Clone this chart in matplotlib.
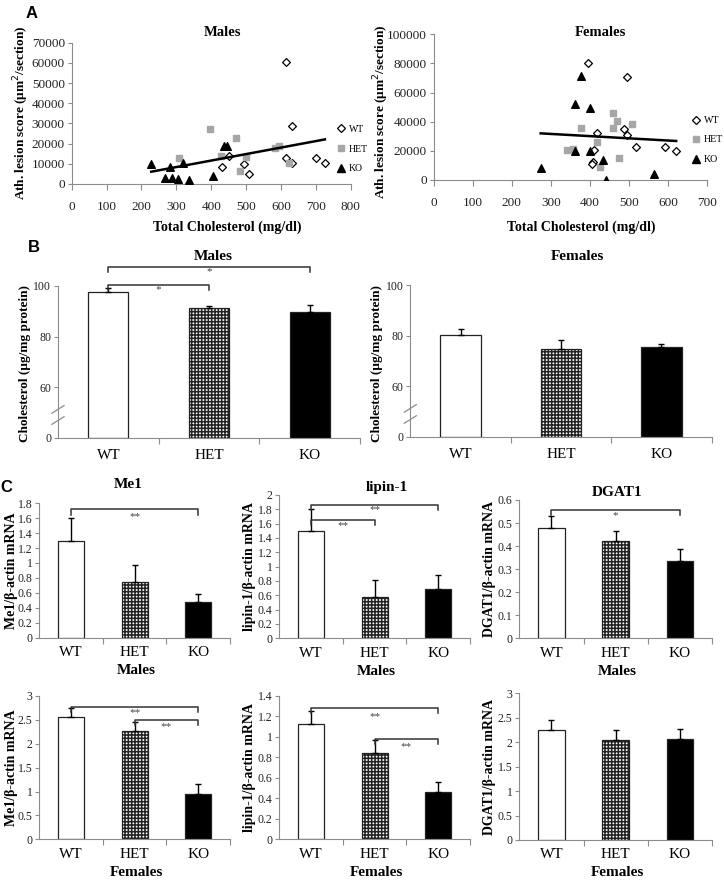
import numpy as np
import matplotlib
matplotlib.use('Agg')
import matplotlib.pyplot as plt
from matplotlib.lines import Line2D

plt.rcParams['font.family'] = ['Liberation Serif', 'DejaVu Serif']
plt.rcParams['hatch.linewidth'] = 1.1
plt.rcParams['hatch.color'] = 'black'

# ---- Данные: панель A (точечные графики) ----
m_wt_x = [615, 631, 614, 631, 700, 726, 430, 452, 494, 508]
m_wt_y = [60500, 28500, 13100, 10500, 13000, 10500, 8400, 14100, 10100, 5000]
m_het_x = [397, 472, 309, 428, 500, 483, 583, 593, 622]
m_het_y = [27100, 22800, 12900, 14000, 13500, 6400, 17800, 19000, 10200]
m_ko_x = [228, 267, 283, 288, 304, 319, 335, 404, 436, 445]
m_ko_y = [9700, 2800, 8600, 2800, 2300, 10200, 2000, 4100, 18800, 19000]

f_wt_x = [396, 496, 417, 488, 496, 518, 411, 409, 406, 592, 621]
f_wt_y = [80000, 71000, 32000, 35200, 30900, 22600, 20600, 12600, 11000, 22600, 20100]
f_het_x = [342, 356, 378, 417, 425, 460, 470, 460, 474, 508]
f_het_y = [20600, 21000, 35700, 26100, 9200, 46000, 40500, 35500, 15300, 38200]
f_ko_x = [274, 363, 377, 400, 363, 400, 433, 441, 563]
f_ko_y = [8000, 52000, 71600, 49700, 19900, 19900, 13700, 0, 4400]

groups = ['WT', 'HET', 'KO']

# ---- Панель B: холестерин ----
b_m_vals = [97.6, 91.2, 89.6]
b_m_err = [1.6, 0.9, 2.9]
b_f_vals = [80.3, 74.8, 75.5]
b_f_err = [2.2, 3.4, 1.2]

# ---- Панель C: экспрессия мРНК ----
me1_m = [1.30, 0.75, 0.48]
me1_m_err = [0.30, 0.22, 0.11]
lip_m = [1.50, 0.58, 0.69]
lip_m_err = [0.30, 0.24, 0.19]
dg_m = [0.477, 0.423, 0.334]
dg_m_err = [0.054, 0.043, 0.054]
me1_f = [2.55, 2.27, 0.95]
me1_f_err = [0.20, 0.18, 0.20]
lip_f = [1.12, 0.84, 0.46]
lip_f_err = [0.13, 0.13, 0.10]
dg_f = [2.25, 2.05, 2.06]
dg_f_err = [0.20, 0.20, 0.21]

W, H = 724, 882
fig = plt.figure(figsize=(W / 100, H / 100), dpi=100)
GRAY = '#8c8c8c'


def box(l, t, r, b):
    return fig.add_axes([l / W, 1 - b / H, (r - l) / W, (b - t) / H])


def txt(x, y, s, **kw):
    kw.setdefault('ha', 'center')
    kw.setdefault('va', 'center')
    fig.text(x / W, 1 - y / H, s, **kw)


def style(ax, size=8.5):
    for s in ['top', 'right']:
        ax.spines[s].set_visible(False)
    for s in ['left', 'bottom']:
        ax.spines[s].set_color(GRAY)
        ax.spines[s].set_linewidth(0.8)
    ax.tick_params(colors=GRAY, labelcolor='#222222', labelsize=size,
                   length=3, width=0.8, pad=2)


def scatter_panel(ax, wx, wy, hx, hy, kx, ky, xmax, ymax, ystep):
    ax.scatter(wx, wy, marker='D', s=16, facecolor='white',
               edgecolor='black', linewidth=0.9, zorder=3)
    ax.scatter(hx, hy, marker='s', s=22, color='#a6a6a6', zorder=3)
    ax.scatter(kx, ky, marker='^', s=30, color='black', zorder=3)
    allx = np.array(wx + hx + kx, dtype=float)
    ally = np.array(wy + hy + ky, dtype=float)
    k, b = np.polyfit(allx, ally, 1)
    xs = np.array([allx.min(), allx.max()])
    ax.plot(xs, k * xs + b, color='black', lw=1.8, zorder=4)
    ax.set_xlim(0, xmax)
    ax.set_ylim(0, ymax)
    ax.set_xticks(np.arange(0, xmax + 1, 100))
    ax.set_yticks(np.arange(0, ymax + 1, ystep))
    style(ax, 9.5)
    ax.tick_params(axis='x', length=4, pad=8)


handles = [
    Line2D([], [], ls='none', marker='D', ms=4.5, mfc='white', mec='black', mew=0.9, label='WT'),
    Line2D([], [], ls='none', marker='s', ms=5, color='#a6a6a6', label='HET'),
    Line2D([], [], ls='none', marker='^', ms=6, color='black', label='KO'),
]

# Панель A: самцы
ax = box(71.7, 42.7, 350.7, 184)
scatter_panel(ax, m_wt_x, m_wt_y, m_het_x, m_het_y, m_ko_x, m_ko_y, 800, 70000, 10000)
ax.legend(handles=handles, loc='upper left', bbox_to_anchor=(331 / W, 1 - 120 / H),
          bbox_transform=fig.transFigure, frameon=False, fontsize=7,
          handlelength=1, handletextpad=0.3, labelspacing=1.1, borderpad=0)
txt(222, 33, 'Males', fontsize=10.5, fontweight='bold')
txt(227, 227, 'Total Cholesterol (mg/dl)', fontsize=10, fontweight='bold')
txt(21, 113, 'Ath. lesion score (µm$^2$/section)', fontsize=9.5, fontweight='bold', rotation=90)

# Панель A: самки
ax = box(433.7, 34.3, 707, 180)
scatter_panel(ax, f_wt_x, f_wt_y, f_het_x, f_het_y, f_ko_x, f_ko_y, 700, 100000, 20000)
ax.legend(handles=handles, loc='upper left', bbox_to_anchor=(686 / W, 1 - 111 / H),
          bbox_transform=fig.transFigure, frameon=False, fontsize=7.2,
          handlelength=1, handletextpad=0.3, labelspacing=1.05, borderpad=0)
txt(600, 32, 'Females', fontsize=10.5, fontweight='bold')
txt(581, 227, 'Total Cholesterol (mg/dl)', fontsize=10, fontweight='bold')
txt(381, 112, 'Ath. lesion score (µm$^2$/section)', fontsize=9.5, fontweight='bold', rotation=90)


def bars(ax, vals, errs, base=0.0, width=0.4):
    pos = np.arange(3) + 0.5
    faces = ['white', 'white', 'black']
    hatches = [None, '+++++', None]
    for p, v, e, fc, h in zip(pos, vals, errs, faces, hatches):
        ax.bar(p, v - base, width=width, bottom=base, color=fc, hatch=h,
               edgecolor='#222222', linewidth=0.9, zorder=2)
        ax.errorbar(p, v, yerr=[[0], [e]], color='black', lw=1,
                    capsize=2.5, capthick=1, zorder=3)
    ax.set_xlim(0, 3)
    ax.set_xticks(pos)
    ax.set_xticklabels(groups)
    ax.set_xticks([1, 2, 3], minor=True)
    style(ax)
    ax.tick_params(axis='x', which='major', length=0, labelsize=11, labelcolor='black', pad=8)
    ax.tick_params(axis='x', which='minor', length=4, color=GRAY, width=0.8)


def bracket(ax, i, j, y, leg, label, ty):
    x1, x2 = i + 0.5, j + 0.5
    ax.plot([x1, x1, x2, x2], [y - leg, y, y, y - leg], color='#333333',
            lw=1.1, clip_on=False, zorder=4)
    ax.text((x1 + x2) / 2, ty, label, ha='center', va='center', fontsize=8,
            color='#444444', clip_on=False)


def break_marks(ax, y):
    for dy in (-2.2, 2.2):
        ax.plot([-0.06, 0.06], [y + dy - 1.5, y + dy + 1.5], color=GRAY, lw=0.9,
                clip_on=False, zorder=5)


# Панель B
for (l, t, r, b), vals, errs, title, tx, ylx in [
    ((58, 286, 360, 437.7), b_m_vals, b_m_err, 'Males', 213, 25),
    ((410.3, 285, 711.7, 436.7), b_f_vals, b_f_err, 'Females', 577, 377),
]:
    ax = box(l, t, r, b)
    bars(ax, vals, errs, base=40)
    ax.set_ylim(40, 100)
    ax.set_yticks([40, 60, 80, 100])
    ax.set_yticklabels(['0', '60', '80', '100'])
    break_marks(ax, 49)
    txt(tx, 257, title, fontsize=11, fontweight='bold')
    txt(ylx, 364, 'Cholesterol (µg/mg protein)', fontsize=9.5, fontweight='bold', rotation=90)
    if title == 'Males':
        bracket(ax, 0, 2, 107.7, 2.0, '*', 105.5)
        bracket(ax, 0, 1, 100.4, 2.0, '*', 98.6)

# Панель C
c_panels = [
    ((39.3, 503.3, 230, 637.5), me1_m, me1_m_err, 1.8, 0.2, 'Me1/β-actin mRNA', 12, 'Males',
     [(0, 2, 1.72, 0.08, '**', 1.62)]),
    ((279.3, 495, 470, 638.3), lip_m, lip_m_err, 2.0, 0.2, 'lipin-1/β-actin mRNA', 249, 'Males',
     [(0, 2, 1.86, 0.07, '**', 1.79), (0, 1, 1.65, 0.07, '**', 1.57)]),
    ((519.3, 500, 712, 638.3), dg_m, dg_m_err, 0.6, 0.1, 'DGAT1/β-actin mRNA', 489, 'Males',
     [(0, 2, 0.555, 0.02, '*', 0.533)]),
    ((39.3, 696, 230, 839.3), me1_f, me1_f_err, 3.0, 0.5, 'Me1/β-actin mRNA', 12, 'Females',
     [(0, 2, 2.76, 0.09, '**', 2.66), (1, 2, 2.50, 0.10, '**', 2.35)]),
    ((279.3, 695.7, 470, 839.3), lip_f, lip_f_err, 1.4, 0.2, 'lipin-1/β-actin mRNA', 250, 'Females',
     [(0, 2, 1.28, 0.045, '**', 1.20), (1, 2, 0.975, 0.045, '**', 0.90)]),
    ((519.3, 693.3, 712, 840), dg_f, dg_f_err, 3.0, 0.5, 'DGAT1/β-actin mRNA', 490, 'Females',
     []),
]

for (l, t, r, b), vals, errs, ymax, step, ylab, ylx, sex, brs in c_panels:
    ax = box(l, t, r, b)
    bars(ax, vals, errs, width=0.41)
    ax.set_ylim(0, ymax)
    ax.set_yticks(np.round(np.arange(0, ymax + step / 2, step), 2))
    ax.yaxis.set_major_formatter(matplotlib.ticker.FormatStrFormatter('%g'))
    ax.tick_params(axis='x', which='major', pad=6)
    txt(ylx, (t + b) / 2, ylab, fontsize=10, fontweight='bold', rotation=90)
    txt((l + r) / 2 + 2, b + 33, sex, fontsize=11, fontweight='bold')
    for i, j, y, leg, lab, ty in brs:
        bracket(ax, i, j, y, leg, lab, ty)

txt(128, 485, 'Me1', fontsize=11, fontweight='bold')
txt(387, 488, 'lipin-1', fontsize=11, fontweight='bold')
txt(617, 493, 'DGAT1', fontsize=11, fontweight='bold')

# Буквы панелей
for x, y, s in [(32, 13, 'A'), (34, 248, 'B'), (6, 487, 'C')]:
    txt(x, y, s, fontsize=12, fontweight='bold', family='Liberation Sans')

fig.savefig('out.png', dpi=100)
